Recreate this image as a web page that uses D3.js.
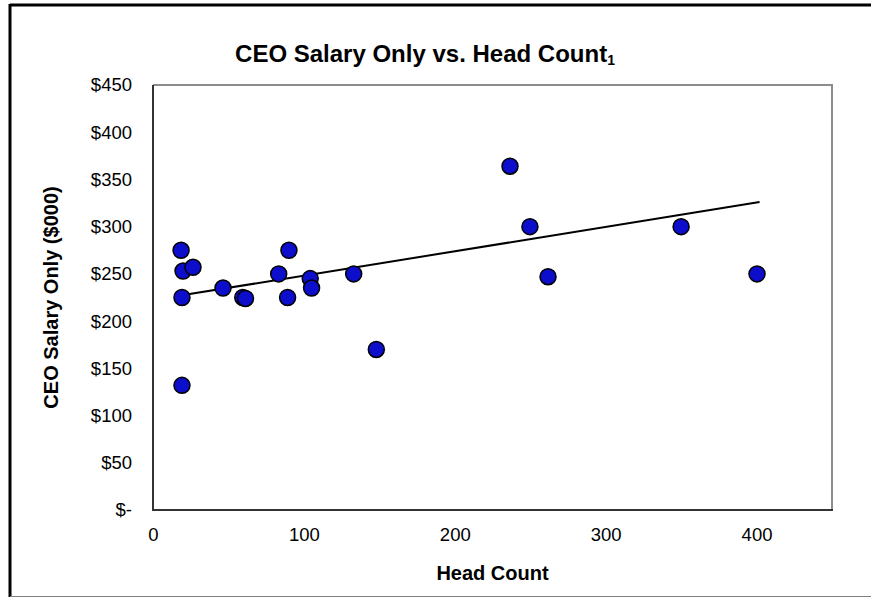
<!DOCTYPE html>
<html>
<head>
<meta charset="utf-8">
<script src="https://cdn.jsdelivr.net/npm/d3@7"></script>
<style>
  html, body { margin: 0; padding: 0; background: #ffffff; }
  svg { display: block; font-family: "Liberation Sans", Arial, sans-serif; }
</style>
</head>
<body>
<svg id="chart" width="871" height="598"></svg>
<script>
// ---- data ----
const headCount = [18.6, 19.9, 26.5, 19.2, 19.2, 46.4, 59.5, 61.3, 83.3, 90.1, 89.2, 104.2, 105.1, 133, 148, 236.6, 249.8, 261.8, 350, 400.3];
const salary    = [275, 253, 257, 225, 132, 235, 225, 224, 250, 275, 225, 245, 235, 250, 170, 364, 300, 247, 300, 250];
const trendX = [18, 402];
const trendY = [227, 326];
const xTickValues = [0, 100, 200, 300, 400];
const yTickValues = [0, 50, 100, 150, 200, 250, 300, 350, 400, 450];
const yTickLabels = ["$-", "$50", "$100", "$150", "$200", "$250", "$300", "$350", "$400", "$450"];
const titleText = "CEO Salary Only vs. Head Count";
const titleSub = "1";
const xTitle = "Head Count";
const yTitle = "CEO Salary Only ($000)";

const svg = d3.select("#chart");
const plot = { left: 153, top: 85, right: 832, bottom: 510 };

const x = d3.scaleLinear().domain([0, 450]).range([plot.left, plot.right]);
const y = d3.scaleLinear().domain([0, 450]).range([plot.bottom, plot.top]);

// outer chart frame
svg.append("line").attr("x1", 10).attr("x2", 871).attr("y1", 5).attr("y2", 5)
  .attr("stroke", "#000").attr("stroke-width", 3);
svg.append("line").attr("x1", 10).attr("x2", 10).attr("y1", 4).attr("y2", 597)
  .attr("stroke", "#000").attr("stroke-width", 3);
svg.append("line").attr("x1", 10).attr("x2", 871).attr("y1", 596.5).attr("y2", 596.5)
  .attr("stroke", "#808080").attr("stroke-width", 1);

// plot area border
svg.append("line").attr("x1", plot.left).attr("x2", plot.right + 1).attr("y1", plot.top).attr("y2", plot.top)
  .attr("stroke", "#8c8c8c").attr("stroke-width", 2);
svg.append("line").attr("x1", plot.right).attr("x2", plot.right).attr("y1", plot.top).attr("y2", plot.bottom)
  .attr("stroke", "#8c8c8c").attr("stroke-width", 2);
svg.append("line").attr("x1", plot.left).attr("x2", plot.left).attr("y1", plot.top).attr("y2", plot.bottom + 1)
  .attr("stroke", "#333").attr("stroke-width", 2);
svg.append("line").attr("x1", plot.left).attr("x2", plot.right + 1).attr("y1", plot.bottom).attr("y2", plot.bottom)
  .attr("stroke", "#333").attr("stroke-width", 2);

// axes (labels only, no tick marks)
const yAxis = d3.axisLeft(y).tickValues(yTickValues)
  .tickFormat((d, i) => yTickLabels[i]).tickSize(0).tickPadding(21);
const gy = svg.append("g").attr("transform", `translate(${plot.left},0)`).call(yAxis);
gy.select(".domain").remove();
gy.selectAll("text").attr("font-size", 18.5).attr("fill", "#000")
  .attr("font-family", "Liberation Sans, Arial, sans-serif");

const xAxis = d3.axisBottom(x).tickValues(xTickValues).tickSize(0).tickPadding(18);
const gx = svg.append("g").attr("transform", `translate(0,${plot.bottom})`).call(xAxis);
gx.select(".domain").remove();
gx.selectAll("text").attr("font-size", 18.5).attr("fill", "#000")
  .attr("font-family", "Liberation Sans, Arial, sans-serif");

// trend line
svg.append("line")
  .attr("x1", x(trendX[0])).attr("y1", y(trendY[0]))
  .attr("x2", x(trendX[1])).attr("y2", y(trendY[1]))
  .attr("stroke", "#000").attr("stroke-width", 2);

// points
const pts = headCount.map((h, i) => ({ h, s: salary[i] }));
svg.append("g").selectAll("circle").data(pts).join("circle")
  .attr("cx", d => x(d.h)).attr("cy", d => y(d.s)).attr("r", 8)
  .attr("fill", "#0d0dcc").attr("stroke", "#000").attr("stroke-width", 1.5);

// title
const t = svg.append("text").attr("x", 425).attr("y", 62).attr("text-anchor", "middle")
  .attr("font-size", 24).attr("font-weight", "bold").attr("fill", "#000");
t.append("tspan").text(titleText);
t.append("tspan").attr("font-size", 14).attr("dy", 3).text(titleSub);

// axis titles
svg.append("text").attr("x", (plot.left + plot.right) / 2).attr("y", 580)
  .attr("text-anchor", "middle").attr("font-size", 20).attr("font-weight", "bold").text(xTitle);
svg.append("text").attr("transform", `translate(58,${(plot.top + plot.bottom) / 2}) rotate(-90)`)
  .attr("text-anchor", "middle").attr("font-size", 20).attr("font-weight", "bold").text(yTitle);
</script>
</body>
</html>
